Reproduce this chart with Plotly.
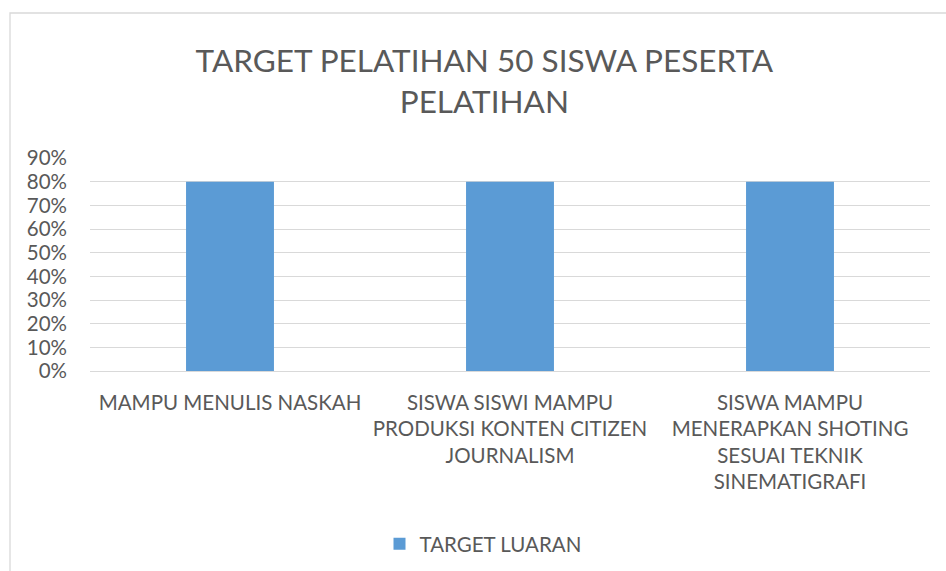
import plotly.graph_objects as go

categories = [
    "MAMPU MENULIS NASKAH",
    "SISWA SISWI MAMPU<br>PRODUKSI KONTEN CITIZEN<br>JOURNALISM",
    "SISWA MAMPU<br>MENERAPKAN SHOTING<br>SESUAI TEKNIK<br>SINEMATIGRAFI",
]
values = [0.80, 0.80, 0.80]
series_name = "TARGET LUARAN"
title_text = "TARGET PELATIHAN 50 SISWA PESERTA<br>PELATIHAN"
y_ticks = [i / 10 for i in range(0, 10)]

FONT = "Lato"
TEXT = "#595959"
GRID = "#d9d9d9"

L, R, T, B = 90, 16, 158, 200
PW = 946 - L - R
PH = 571 - T - B

fig = go.Figure()
fig.add_trace(go.Bar(
    x=categories, y=values, name=series_name,
    marker=dict(color="#5b9bd5", line=dict(width=0)),
    width=0.314, showlegend=True,
))

fig.update_layout(
    width=946, height=571,
    paper_bgcolor="white", plot_bgcolor="white",
    margin=dict(l=L, r=R, t=T, b=B, autoexpand=False),
    font=dict(family=FONT, color=TEXT, size=20.5),
    title=dict(text=title_text, x=0.512, xanchor="center", y=0.874, yanchor="middle",
               font=dict(family=FONT, size=31.5, color=TEXT)),
    showlegend=True,
    legend=dict(orientation="h", x=(483 - L) / PW, xanchor="center",
                y=(371 - 544) / PH, yanchor="middle",
                font=dict(family=FONT, size=20.5, color=TEXT), itemwidth=30),
)
fig.update_xaxes(showgrid=False, showline=False, zeroline=False,
                 tickfont=dict(family=FONT, size=20.5, color=TEXT),
                 ticks="", ticklabelstandoff=17, tickangle=0)
fig.update_yaxes(range=[0, 0.9], tickvals=y_ticks + [0.9], tickformat=".0%",
                 showgrid=True, gridcolor=GRID, gridwidth=1.3, zeroline=True,
                 zerolinecolor=GRID, zerolinewidth=1.3, showline=False,
                 tickfont=dict(family=FONT, size=20.5, color=TEXT),
                 ticks="", ticklabelstandoff=22)

# chart border
fig.add_shape(type="rect", xref="paper", yref="paper",
              x0=(10 - L) / PW, x1=1.2, y0=-2, y1=(371 - 13) / PH,
              line=dict(color=GRID, width=1.3), layer="below")

fig.write_html("out.html")
